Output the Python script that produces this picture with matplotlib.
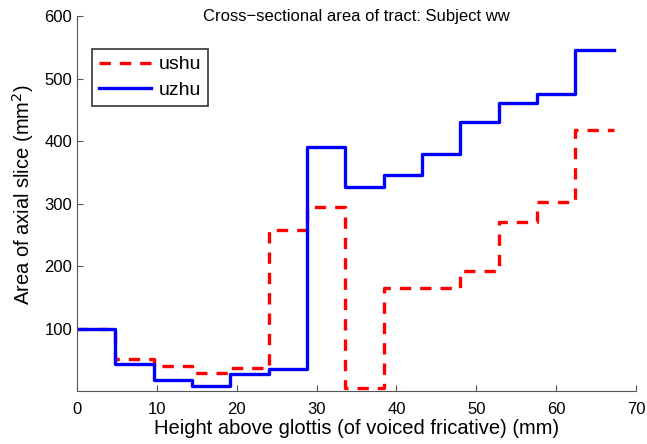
import matplotlib
matplotlib.use("Agg")
import matplotlib.pyplot as plt
import numpy as np

plt.rcParams['font.family'] = ['Liberation Sans', 'DejaVu Sans']

# slice start heights (mm) and areas (mm^2)
height = [0, 4.8, 9.6, 14.4, 19.2, 24.0, 28.8, 33.6, 38.4, 43.2, 48.0, 52.8, 57.6, 62.4, 67.2]
ushu = [100, 51, 40, 29, 37, 257, 294, 5, 165, 165, 192, 271, 302, 417]
uzhu = [100, 43, 18, 9, 27, 36, 391, 326, 346, 380, 431, 461, 475, 545]

fig = plt.figure(figsize=(6.47, 4.44), dpi=100)
ax = fig.add_axes([0.119, 0.119, 0.864, 0.845])

ax.step(height, ushu + [ushu[-1]], where='post', color='red', lw=2.4,
        ls=(0, (3.4, 2.7)), label='ushu')
ax.step(height, uzhu + [uzhu[-1]], where='post', color='blue', lw=2.4,
        label='uzhu')

ax.set_xlim(0, 70)
ax.set_ylim(0, 600)
ax.set_xticks(np.arange(0, 71, 10))
ax.set_yticks(np.arange(100, 601, 100))
ax.spines['top'].set_visible(False)
ax.spines['right'].set_visible(False)
ax.spines['left'].set_color('#555555')
ax.spines['bottom'].set_color('#555555')
ax.tick_params(direction='in', length=4, labelsize=12, color='#555555')
ax.tick_params(axis='x', pad=8)

ax.set_xlabel('Height above glottis (of voiced fricative) (mm)', fontsize=14.5, labelpad=1)
ax.set_ylabel('Area of axial slice (mm$^2$)', fontsize=14.5)
ax.yaxis.set_label_coords(-0.074, 0.525)
fig.text(0.551, 1 - 17/444, 'Cross\u2212sectional area of tract: Subject ww',
         ha='center', va='center', fontsize=12)

leg = ax.legend(loc='upper left', bbox_to_anchor=(0.027, 0.912), fontsize=14,
                handlelength=2.7, frameon=True, fancybox=False, borderpad=0.35,
                labelspacing=0.42, handletextpad=0.4, borderaxespad=0)
leg.get_frame().set_edgecolor('black')
leg.get_frame().set_linewidth(1.2)

fig.savefig('out.png', dpi=100)
